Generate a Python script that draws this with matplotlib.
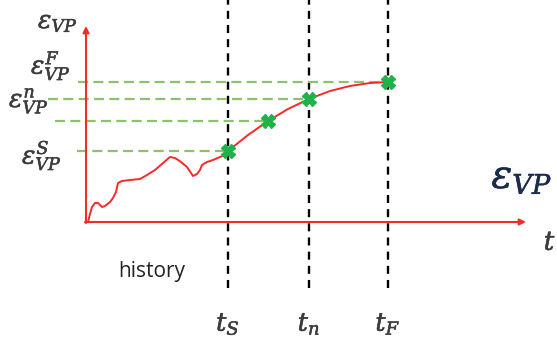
import matplotlib
matplotlib.use("Agg")
import matplotlib.pyplot as plt
import matplotlib.patheffects as pe

plt.rcParams["mathtext.fontset"] = "dejavuserif"

# Viscoplastic strain history (time, strain) in arbitrary units
hist_t = [0.02, 0.04, 0.06, 0.09, 0.12, 0.16, 0.19, 0.24, 0.27, 0.30, 0.32, 0.36,
          0.44, 0.54, 0.61, 0.69, 0.77, 0.84, 0.89, 0.95, 1.01, 1.07, 1.11, 1.14,
          1.16, 1.21, 1.27, 1.34, 1.39, 1.42]
hist_eps = [0.00, 0.08, 0.15, 0.19, 0.19, 0.15, 0.16, 0.20, 0.24, 0.30, 0.39, 0.41,
            0.42, 0.43, 0.47, 0.52, 0.59, 0.65, 0.64, 0.60, 0.55, 0.46, 0.48, 0.52,
            0.57, 0.60, 0.62, 0.65, 0.67, 0.71]
# Predicted strain from t_S to t_F
pred_t = [1.42, 1.62, 1.82, 2.02, 2.23, 2.44, 2.64, 2.84, 3.02]
pred_eps = [0.71, 0.87, 1.01, 1.13, 1.23, 1.31, 1.36, 1.39, 1.40]

# Marked states: start, intermediate, current, final
mark_t = [1.42, 1.82, 2.23, 3.02]
mark_eps = [0.71, 1.01, 1.23, 1.40]
guide_start = [-0.09, -0.31, -0.38, -0.08]

time_marks = [1.42, 2.23, 3.02]
time_labels = [r"$t_S$", r"$t_n$", r"$t_F$"]

fig = plt.figure(figsize=(5.57, 3.37), dpi=100)
ax = fig.add_axes([0, 0, 1, 1])
ax.set_xlim(-0.86, 4.71)
ax.set_ylim(-1.15, 2.22)
ax.axis("off")

red = "#f52a2a"
green_line = "#8cc36a"
green_mark = "#1fb34a"
text_gray = "#3c3c3c"
navy = "#1c2b4a"

def heavy(color):
    return [pe.withStroke(linewidth=0.35, foreground=color)]

# Vertical dashed time markers
for tm in time_marks:
    ax.plot([tm, tm], [-0.66, 2.22], color="black", lw=1.7,
            dashes=(3.4, 2.6), zorder=2)

# Horizontal guides to strain levels
for x0, xe, ye in zip(guide_start, mark_t, mark_eps):
    ax.plot([x0, xe], [ye, ye], color=green_line, lw=1.6,
            dashes=(4.5, 2.4), zorder=2)

# Axes with arrowheads
ax.annotate("", xy=(0, 1.96), xytext=(0, -0.01),
            arrowprops=dict(arrowstyle="-|>", color=red, lw=1.5,
                            mutation_scale=9, shrinkA=0, shrinkB=0), zorder=3)
ax.annotate("", xy=(4.40, 0), xytext=(-0.01, 0),
            arrowprops=dict(arrowstyle="-|>", color=red, lw=1.5,
                            mutation_scale=9, shrinkA=0, shrinkB=0), zorder=3)

# Strain curve
ax.plot(hist_t, hist_eps, color=red, lw=1.4, zorder=4)
ax.plot(pred_t, pred_eps, color=red, lw=1.4, zorder=4)
ax.plot(mark_t, mark_eps, linestyle="none", marker="X", markersize=10,
        color=green_mark, markeredgecolor=green_mark, zorder=5)

# Strain axis labels
strain_labels = [
    (-0.28, 2.00, r"$\varepsilon_{VP}$"),
    (-0.35, 1.56, r"$\varepsilon_{VP}^{F}$"),
    (-0.57, 1.21, r"$\varepsilon_{VP}^{n}$"),
    (-0.44, 0.66, r"$\varepsilon_{VP}^{S}$"),
]
for x, y, s in strain_labels:
    ax.text(x, y, s, fontsize=18, color=text_gray, ha="center", va="center",
            path_effects=heavy(text_gray))

# Time axis labels
ax.text(4.64, -0.21, r"$t$", fontsize=19, color=text_gray, ha="center",
        va="center", path_effects=heavy(text_gray))
ax.text(0.66, -0.50, "history", fontsize=15, color="#222222",
        ha="center", va="center", family="Open Sans")
for tm, lab in zip(time_marks, time_labels):
    ax.text(tm, -1.02, lab, fontsize=18.5, color=text_gray, ha="center",
            va="center", path_effects=heavy(text_gray))

# Variable name
ax.text(4.36, 0.45, r"$\varepsilon_{VP}$", fontsize=28, color=navy,
        ha="center", va="center", path_effects=heavy(navy))

fig.savefig("out.png", dpi=100)
